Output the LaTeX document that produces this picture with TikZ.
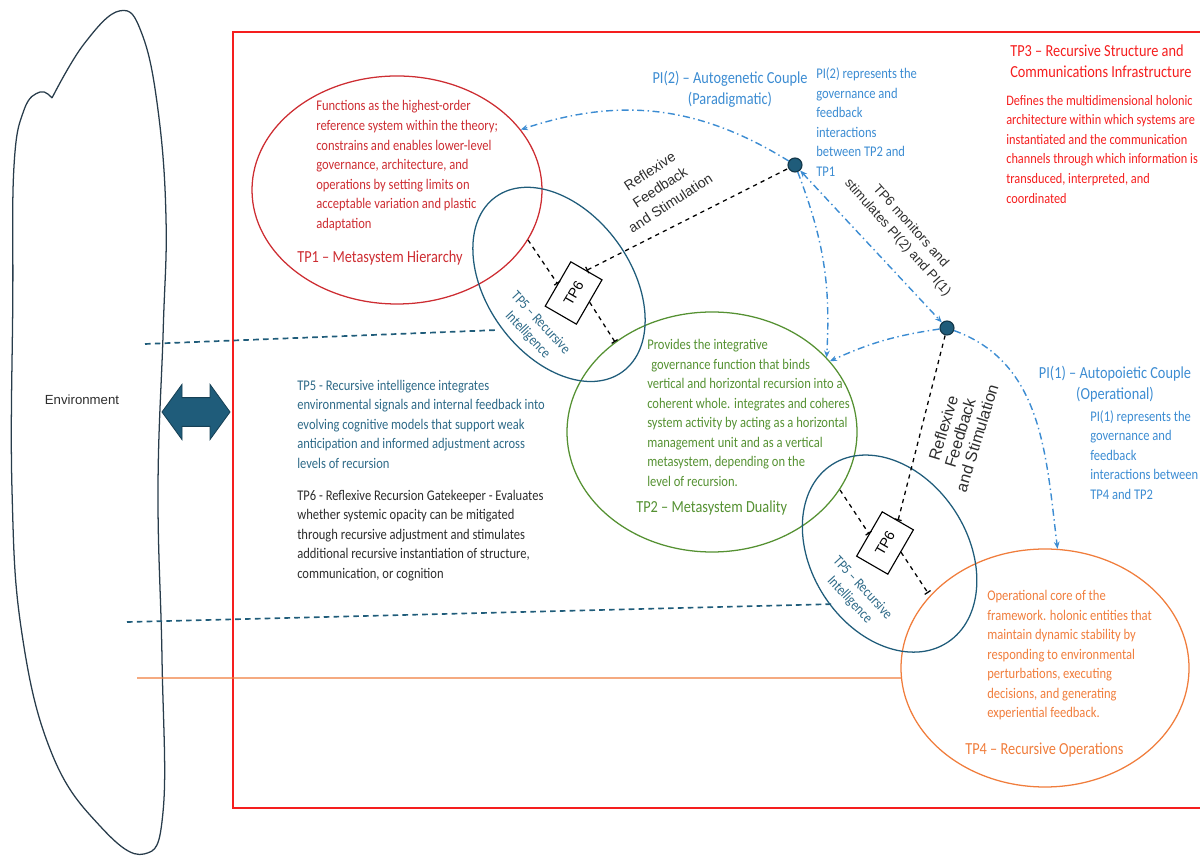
\documentclass[tikz,border=0pt]{standalone}
\usepackage{fontspec}
\setmainfont{Carlito}[FakeStretch=0.85]
\newfontfamily\labelfont{Liberation Sans}
\usetikzlibrary{arrows.meta,shapes.geometric}

\definecolor{framered}{RGB}{245,30,30}
\definecolor{tpred}{RGB}{205,45,50}
\definecolor{tpgreen}{RGB}{85,145,50}
\definecolor{tporange}{RGB}{240,125,60}
\definecolor{tpteal}{RGB}{31,92,122}
\definecolor{tealtext}{RGB}{45,105,135}
\definecolor{piblue}{RGB}{60,140,210}
\definecolor{darktext}{RGB}{45,45,45}
\definecolor{envline}{RGB}{40,60,75}

\begin{document}
\begin{tikzpicture}[
      >={Stealth[length=5pt,width=4pt]},
      ring/.style={draw, ellipse, line width=0.9pt, inner sep=0pt},
      gate/.style={draw, rectangle, rotate=60, minimum width=1.28cm, minimum height=0.9cm, line width=0.8pt, inner sep=0pt, font=\labelfont\fontsize{10}{12}\selectfont},
      pidot/.style={circle, fill=tpteal, draw=tpteal!60!black, line width=0.8pt, minimum size=0.35cm, inner sep=0pt},
      body/.style={anchor=north west, align=left, inner sep=0pt, font=\fontsize{10.5}{13.9}\selectfont},
      heading/.style={inner sep=0pt, font=\fontsize{12}{15}\selectfont},
      reflex/.style={align=center, inner sep=0pt, text=darktext, font=\labelfont\fontsize{10}{13.5}\selectfont},
      gateline/.style={dashed, line width=0.9pt},
      piline/.style={piblue, line width=1pt, dash pattern=on 5pt off 2.5pt on 1pt off 2.5pt},
      envdash/.style={tpteal, line width=1.2pt, dash pattern=on 4pt off 3pt}
   ]

                  \useasboundingbox (0,0) rectangle (30,21.45);

                  \draw[framered, line width=1pt] (30.3,20.65) -- (5.825,20.65) -- (5.825,1.25) -- (30.3,1.25);

                  \draw[envline, line width=0.9pt] plot[smooth, tension=0.7] coordinates {(1.3,19.0) (2.1,20.35) (3.0,21.18) (3.55,20.6) (3.95,18.7) (4.15,16.0) (4.08,13.2) (3.95,9.2) (4.05,5.0) (4.08,1.2) (3.6,0.1) (2.5,0.8) (1.3,2.6) (0.55,5.6) (0.3,9.2) (0.32,14.0) (0.35,17.3) (0.6,18.7) (1.0,19.15) (1.3,19.0)};
                  \node[font=\labelfont\fontsize{9.4}{11}\selectfont, text=darktext] (env) at (2.05,11.45) {Environment};

                  \filldraw[fill=tpteal, draw=tpteal!70!black, line width=0.6pt] (4.05,11.15) -- (4.55,11.84) -- (4.55,11.51) -- (5.25,11.51) -- (5.25,11.84) -- (5.75,11.15) -- (5.25,10.46) -- (5.25,10.79) -- (4.55,10.79) -- (4.55,10.46) -- cycle;

                  \node[ring, draw=tpred, minimum width=7.25cm, minimum height=5.7cm] (tp1) at (9.925,16.7) {};
                  \node[ring, draw=tpgreen, minimum width=7.25cm, minimum height=6cm] (tp2) at (17.8,10.65) {};
                  \node[ring, draw=tporange, minimum width=7.2cm, minimum height=5.95cm] (tp4) at (26.125,4.75) {};
                  \node[ring, draw=tpteal, rotate=-54, minimum width=5.4cm, minimum height=3.6cm] (tp5a) at (13.975,14.34) {};
                  \node[ring, draw=tpteal, rotate=-57, minimum width=5.3cm, minimum height=3.9cm] (tp5b) at (22.24,7.61) {};

                  \node[gate] (tp6a) at (14.34,14.125) {TP6};
                  \node[gate] (tp6b) at (22.125,7.875) {TP6};

                  \node[pidot] (pi2) at (19.875,17.325) {};
                  \node[pidot] (pi1) at (23.675,13.25) {};

                  \coordinate (ga1) at (13.2,15.45);
                  \coordinate (ga2) at (15.375,12.9);
                  \coordinate (gb1) at (21.0,9.2);
                  \coordinate (gb2) at (23.2,6.625);

                  \draw[gateline, -{Bar[width=5pt]}] (ga1) -- (tp6a.north);
                  \draw[gateline, -{Bar[width=5pt]}] (tp6a.south) -- (ga2);
                  \draw[gateline, {Bar[width=5pt]}-] (tp6a.east) -- (pi2);
                  \draw[gateline, -{Bar[width=5pt]}] (gb1) -- (tp6b.north);
                  \draw[gateline, -{Bar[width=5pt]}] (tp6b.south) -- (gb2);
                  \draw[gateline, {Bar[width=5pt]}-] (tp6b.east) -- (pi1);

                  \draw[piline, ->] (pi2) to[bend right=25] (tp1.26);
                  \draw[piline, ->] (pi2) to[bend left=12] (tp2.33);
                  \draw[piline, <->] (pi2) -- (pi1);
                  \draw[piline, ->] (pi1) to[bend right=8] (tp2.31);
                  \draw[piline, ->] (pi1) to[out=-20, in=97] (tp4.84);

                  \coordinate (envA) at (3.625,12.85);
                  \coordinate (envB) at (3.175,5.9);
                  \coordinate (envC) at (3.425,4.5);
                  \coordinate (tp5aW) at (12.45,13.2);
                  \coordinate (tp5bW) at (20.875,6.35);

                  \draw[envdash] (envA) -- (tp5aW);
                  \draw[envdash] (envB) -- (tp5bW);
                  \draw[tporange, line width=0.9pt] (envC) -- (tp4.184);

                  \node[reflex, rotate=33] (reflexA) at (16.5,16.775) {Reflexive\\Feedback\\and Stimulation};
                  \node[reflex, rotate=-48, font=\labelfont\fontsize{9.5}{12.5}\selectfont] (monitor) at (22.6,15.65) {TP6 monitors and\\stimulates PI(2) and PI(1)};
                  \node[reflex, rotate=73, font=\labelfont\fontsize{11.5}{12.5}\selectfont] (reflexB) at (24.0,10.625) {Reflexive\\Feedback\\and Stimulation};

                  \node[align=center, inner sep=0pt, text=tealtext, rotate=-47, font=\fontsize{10.5}{12.5}\selectfont] (tp5labA) at (13.35,13.225) {TP5 – Recursive\\Intelligence};
                  \node[align=center, inner sep=0pt, text=tealtext, rotate=-47, font=\fontsize{10.5}{12.5}\selectfont] (tp5labB) at (21.4,6.6) {TP5 – Recursive\\Intelligence};

                  \node[body, text=tpred] (tp1text) at (7.9,18.94) {Functions as the highest-order\\reference system within the theory;\\constrains and enables lower-level\\governance, architecture, and\\operations by setting limits on\\acceptable variation and plastic\\adaptation};
                  \node[heading, anchor=base west, text=tpred] (tp1title) at (7.425,14.875) {TP1 – Metasystem Hierarchy};

                  \node[heading, anchor=north, align=center, text=piblue] (pi2title) at (18.25,19.69) {PI(2) – Autogenetic Couple\\(Paradigmatic)};
                  \node[body, text=piblue] (pi2text) at (20.4,19.76) {PI(2) represents the\\governance and\\feedback\\interactions\\between TP2 and\\TP1};

                  \node[heading, anchor=north west, align=left, text=framered] (tp3title) at (25.25,20.33) {TP3 – Recursive Structure and\\Communications Infrastructure};
                  \node[body, text=framered, font=\fontsize{10.3}{13.9}\selectfont] (tp3text) at (25.15,19.075) {Defines the multidimensional holonic\\architecture within which systems are\\instantiated and the communication\\channels through which information is\\transduced, interpreted, and\\coordinated};

                  \node[body, text=tealtext] (tp5text) at (7.425,11.96) {TP5 - Recursive intelligence integrates\\environmental signals and internal feedback into\\evolving cognitive models that support weak\\anticipation and informed adjustment across\\levels of recursion};
                  \node[body, text=darktext] (tp6text) at (7.425,9.205) {TP6 - Reflexive Recursion Gatekeeper - Evaluates\\whether systemic opacity can be mitigated\\through recursive adjustment and stimulates\\additional recursive instantiation of structure,\\communication, or cognition};

                  \node[body, text=tpgreen] (tp2text) at (16.175,12.975) {Provides the integrative\\\hspace*{0.1cm}governance function that binds\\vertical and horizontal recursion into a\\coherent whole. integrates and coheres\\system activity by acting as a horizontal\\management unit and as a vertical\\metasystem, depending on the\\level of recursion.};
                  \node[heading, anchor=base west, text=tpgreen] (tp2title) at (15.9,8.625) {TP2 – Metasystem Duality};

                  \node[heading, anchor=north, align=center, text=piblue] (pi1title) at (27.875,12.3) {PI(1) – Autopoietic Couple\\(Operational)};
                  \node[body, text=piblue] (pi1text) at (27.25,11.2) {PI(1) represents the\\governance and\\feedback\\interactions between\\TP4 and TP2};

                  \node[body, text=tporange] (tp4text) at (24.675,6.7) {Operational core of the\\framework. holonic entities that\\maintain dynamic stability by\\responding to environmental\\perturbations, executing\\decisions, and generating\\experiential feedback.};
                  \node[heading, anchor=base west, text=tporange] (tp4title) at (24.125,2.575) {TP4 – Recursive Operations};

              \end{tikzpicture}
\end{document}
